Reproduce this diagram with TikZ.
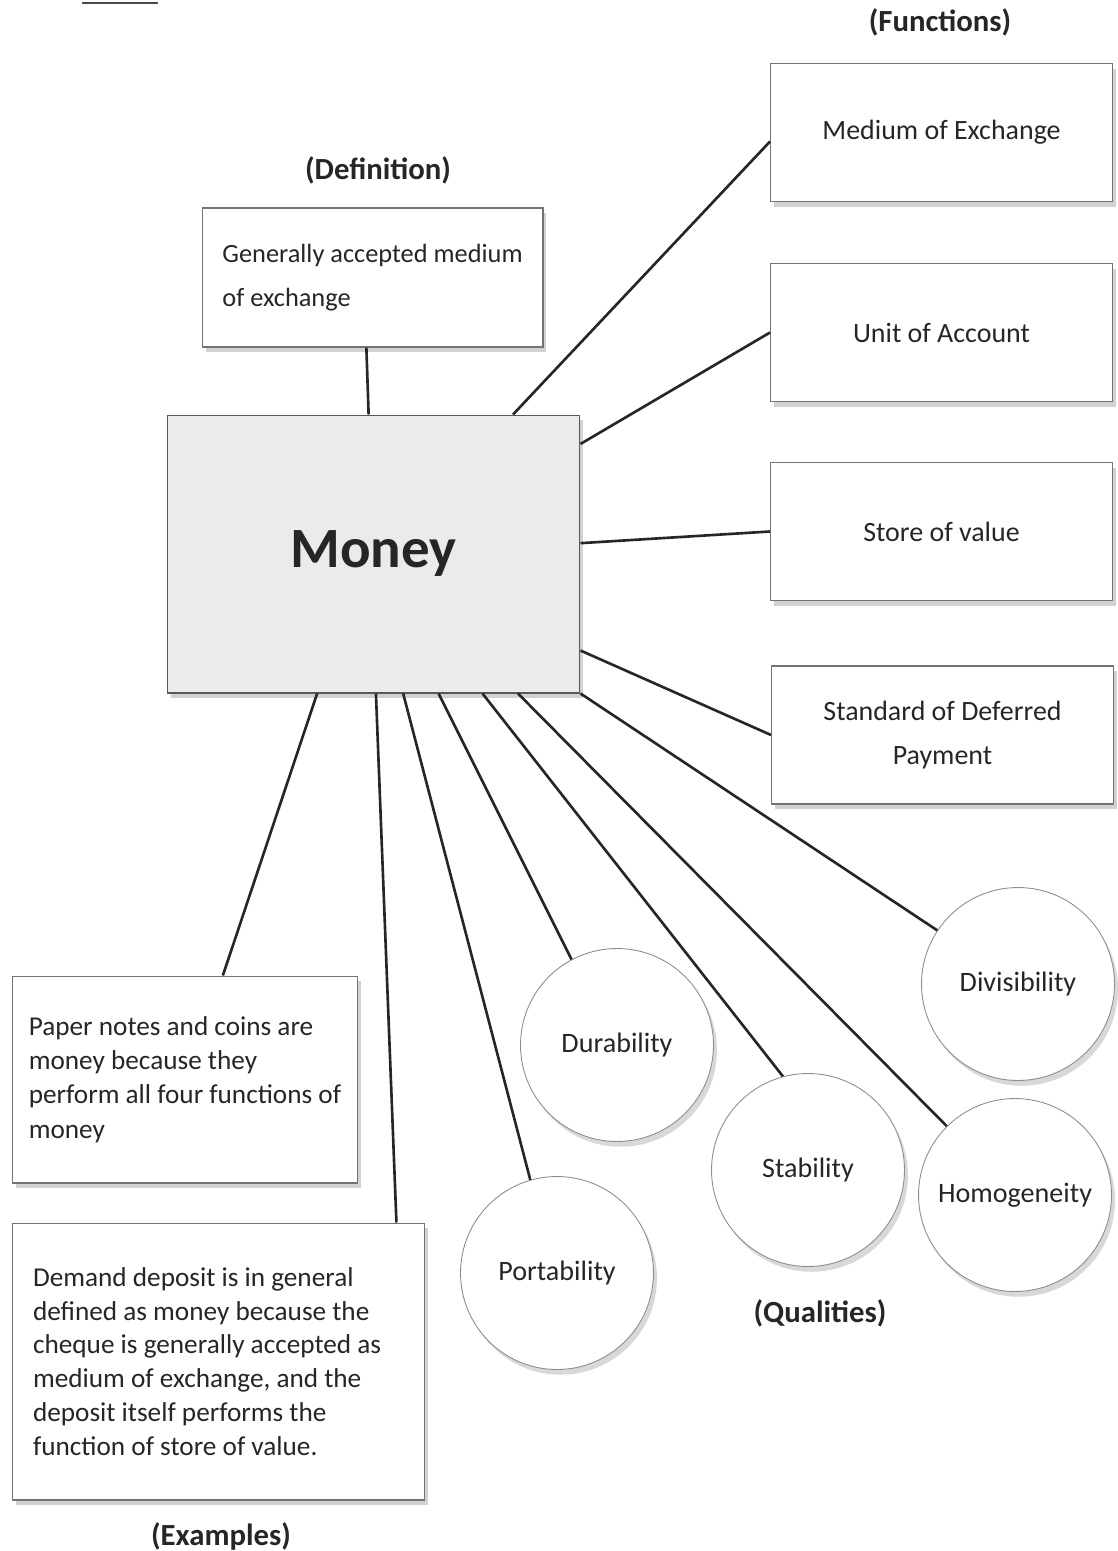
\documentclass[tikz,border=0pt]{standalone}
\usepackage{fontspec}
\setmainfont{Carlito}
\usetikzlibrary{shadows}

\tikzset{
  fbox/.style={draw=black!55, fill=white, line width=0.6pt,
    minimum width=6.84cm, minimum height=2.76cm, align=center,
    text=black!85, font=\fontsize{15.9}{25.5}\selectfont,
    drop shadow={shadow xshift=2pt, shadow yshift=-3pt, fill=black!35}},
  exbox/.style={fbox, font=\fontsize{15.5}{19.6}\selectfont, align=flush left},
  qcircle/.style={circle, draw=black!45, fill=white, line width=0.5pt,
    minimum size=3.86cm, inner sep=0pt, text=black!85,
    font=\fontsize{16}{19}\selectfont,
    drop shadow={shadow xshift=2pt, shadow yshift=-3pt, fill=black!30}},
  heading/.style={text=black!85, font=\bfseries\fontsize{17.5}{21}\selectfont},
  link/.style={line width=1.5pt, black!85}
}

\begin{document}
\begin{tikzpicture}[x=0.02cm, y=-0.02cm]
\useasboundingbox (0,0) rectangle (1117,1551);
\draw[line width=1.2pt, black!70] (82,3) -- (158,3);

% centre
\node[fbox, fill=black!8, draw=black!65, minimum width=8.26cm, minimum height=5.56cm,
  font=\bfseries\fontsize{32.4}{38}\selectfont] (money) at (373.5,554) {Money};

% definition
\node[heading] (deflabel) at (378,170) {(Definition)};
\node[fbox, align=flush left, minimum width=6.82cm, minimum height=2.78cm,
  font=\fontsize{15}{25}\selectfont] (defbox) at (372.5,277.5)
  {Generally accepted medium\\of exchange};

% functions
\node[heading] (funlabel) at (940,22) {(Functions)};
\node[fbox] (medium) at (941.5,132.5) {Medium of Exchange};
\node[fbox] (unit) at (941.5,332.5) {Unit of Account};
\node[fbox] (store) at (941.5,531.5) {Store of value};
\node[fbox] (standard) at (942.5,735) {Standard of Deferred\\Payment};

% examples
\node[exbox, minimum width=6.92cm, minimum height=4.14cm] (ex1) at (185,1079.5)
  {Paper notes and coins are\\money because they\\perform all four functions of\\money};
\node[exbox, minimum width=8.26cm, minimum height=5.54cm, text width=7.42cm,
  font=\fontsize{15.5}{19.3}\selectfont] (ex2) at (218.5,1361.5)
  {Demand deposit is in general\\defined as money because the\\cheque is generally accepted as\\medium of exchange, and the\\deposit itself performs the\\function of store of value.};
\node[heading] (exlabel) at (221,1536) {(Examples)};

% qualities
\node[qcircle] (durability) at (617,1045) {Durability};
\node[qcircle] (portability) at (557,1273) {Portability};
\node[qcircle] (stability) at (808,1170) {Stability};
\node[qcircle] (homogeneity) at (1015,1195) {Homogeneity};
\node[qcircle] (divisibility) at (1018,984) {Divisibility};
\node[heading] (qlabel) at (820,1313) {(Qualities)};

% links
\draw[link] (money.92.7) -- (defbox.265.5);
\draw[link] (money.45.5) -- (medium.183.5);
\draw[link] (money.28.9) -- (unit.west);
\draw[link] (money.3.3) -- (store.west);
\draw[link] (money.335.1) -- (standard.west);
\draw[link] (money.south east) -- (divisibility);
\draw[link] (money.316.5) -- (homogeneity);
\draw[link] (money.308.5) -- (stability.105.2);
\draw[link] (money.295.9) -- (durability.118.5);
\draw[link] (money.282.4) -- (portability.106.2);
\draw[link] (money.271.9) -- (ex2.38.4);
\draw[link] (money.248.9) -- (ex1.70.8);
\end{tikzpicture}
\end{document}
